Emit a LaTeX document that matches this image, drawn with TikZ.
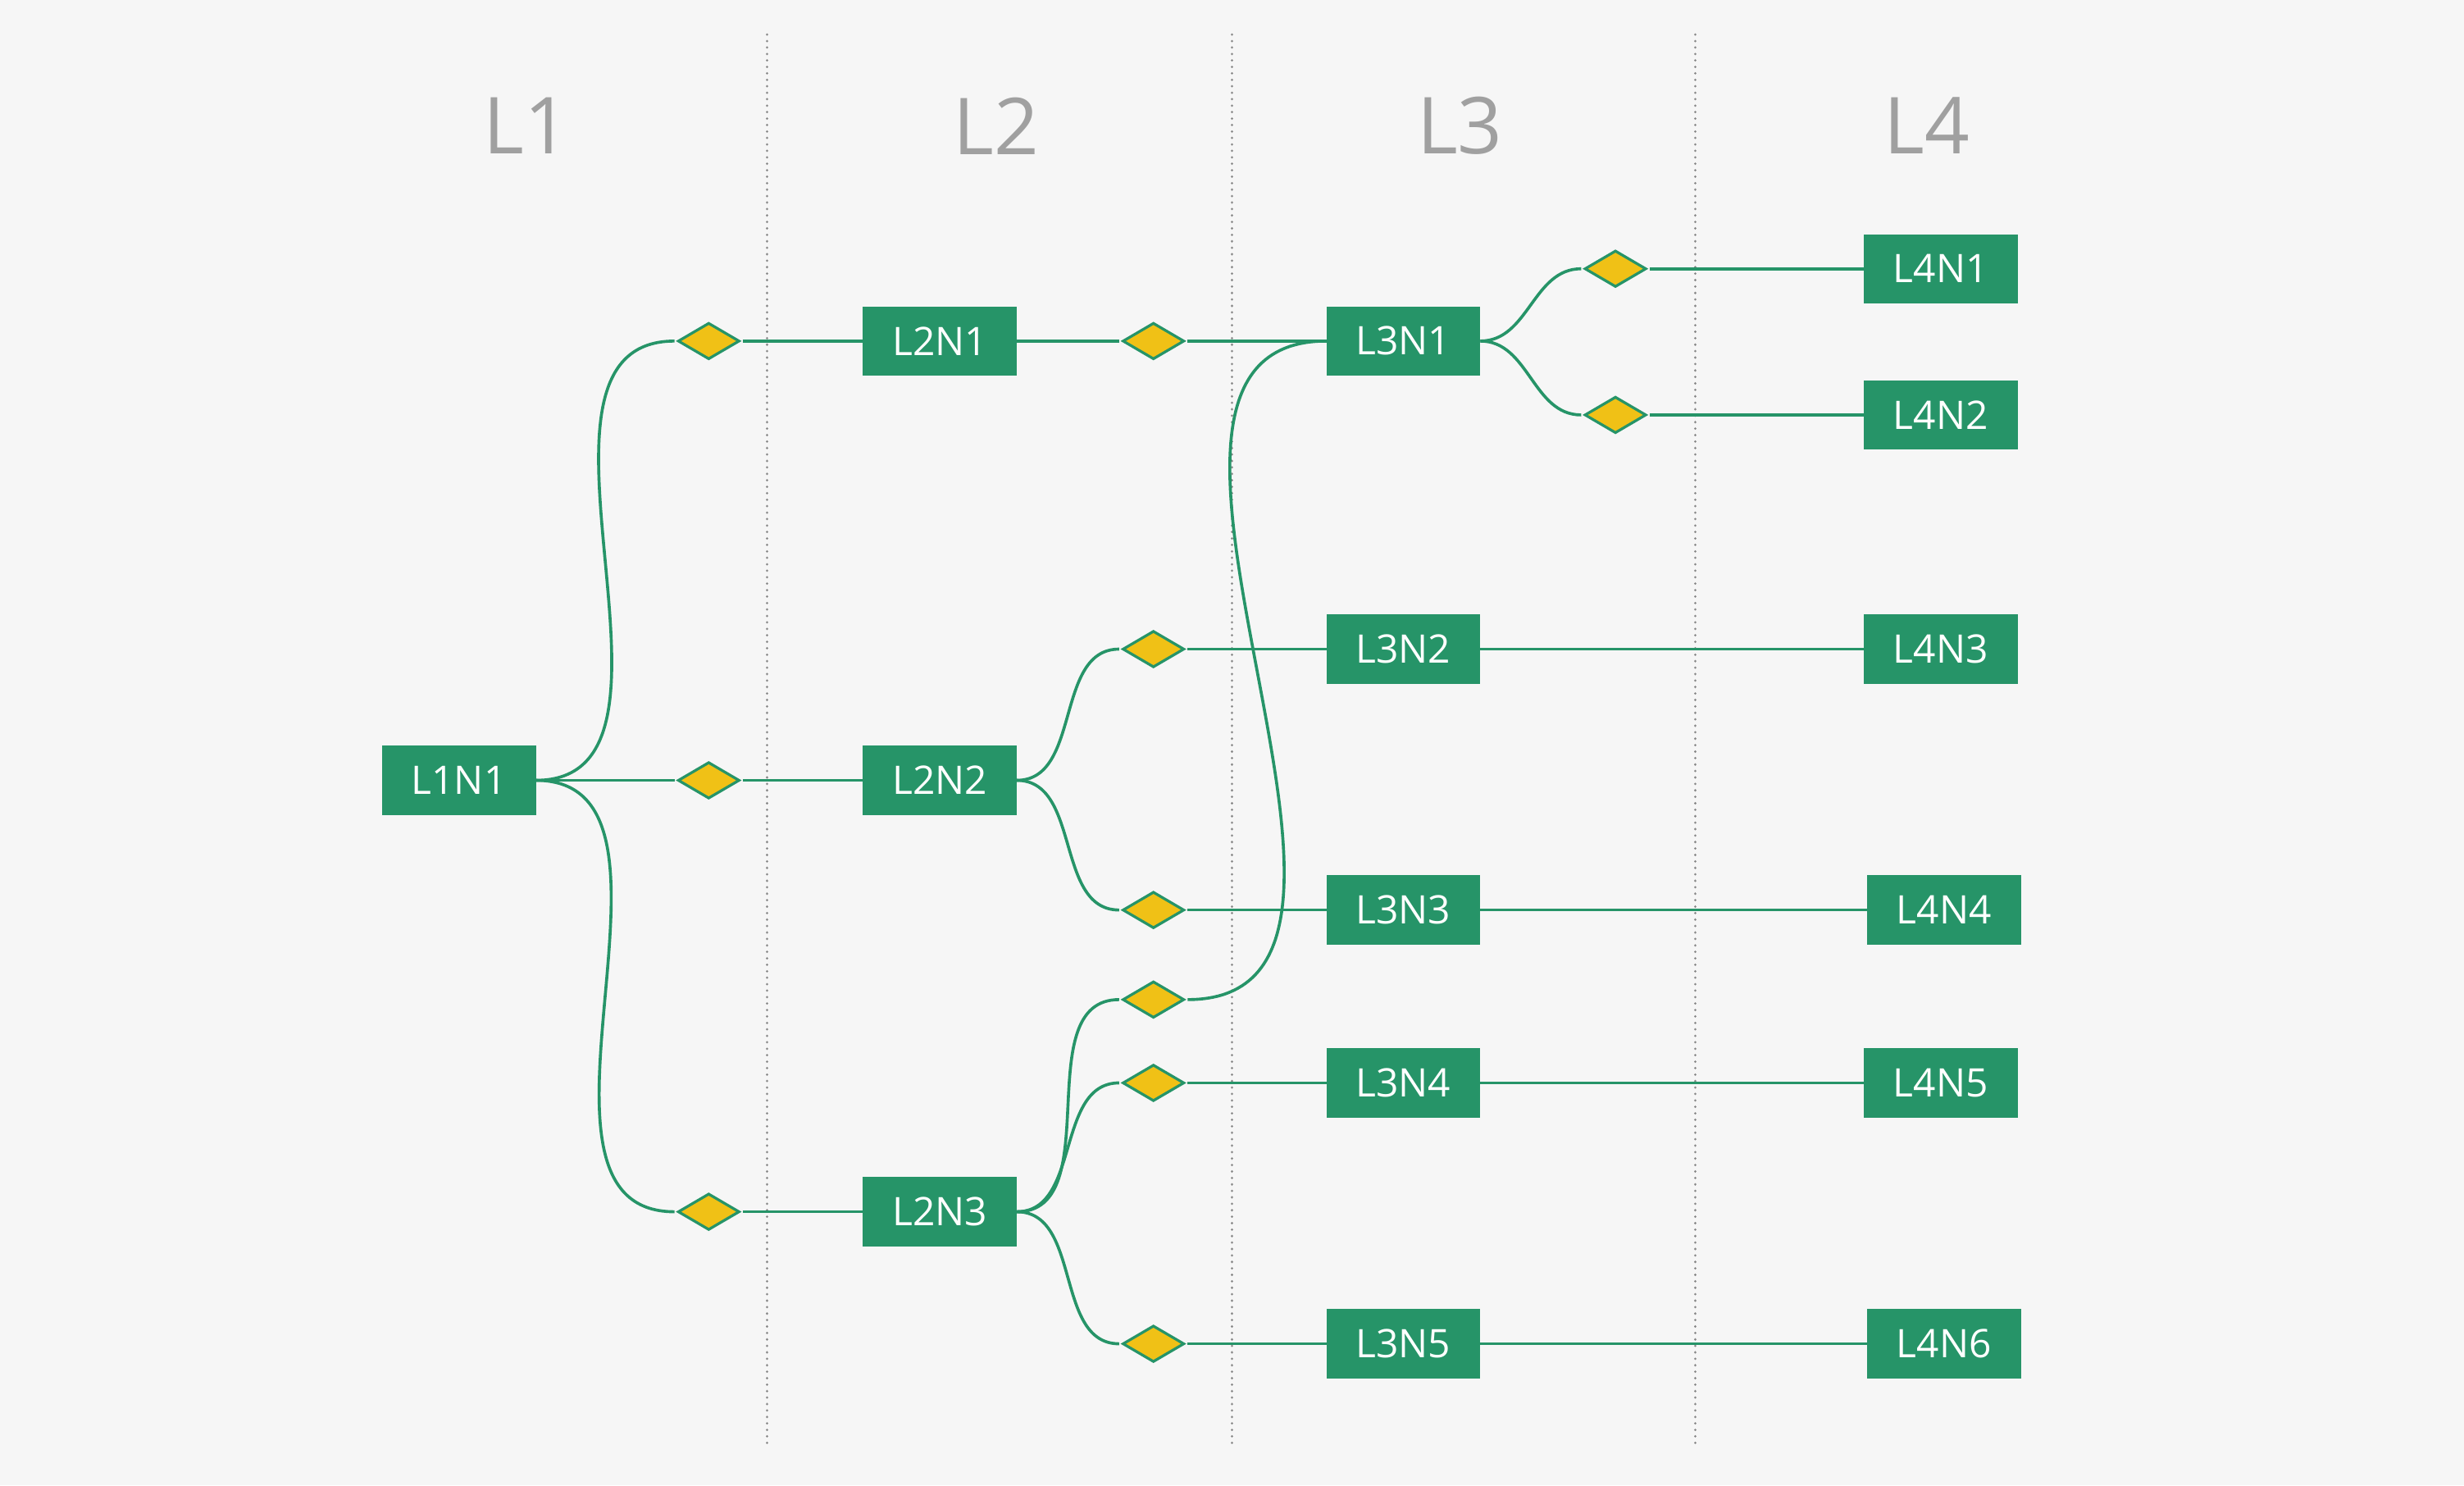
\documentclass[tikz,border=0pt]{standalone}
\usepackage{fontspec}
\setmainfont{Open Sans}
\usetikzlibrary{shapes.geometric}
\definecolor{bg}{RGB}{246,246,246}
\definecolor{leaf}{RGB}{38,148,104}
\definecolor{gold}{RGB}{240,193,22}
\definecolor{rule}{RGB}{135,135,135}
\definecolor{head}{RGB}{160,160,160}
\begin{document}
\begin{tikzpicture}[x=1pt,y=-1pt,
  box/.style={fill=leaf, text=white, minimum width=98pt, minimum height=44pt,
    inner sep=0pt, outer sep=0pt, font=\fontsize{25}{30}\selectfont},
  gate/.style={diamond, fill=gold, draw=leaf, line width=1.7pt,
    minimum width=40pt, minimum height=24pt, inner sep=0pt, outer sep=1.8pt},
  link/.style={draw=leaf, line width=1.9pt},
  divider/.style={draw=rule, line width=1.6pt, line cap=round, dash pattern=on 0.01pt off 4.1pt},
  level/.style={text=head, inner sep=0pt, font=\fontsize{50}{60}\selectfont}]

% canvas
\fill[bg] (0,0) rectangle (1568,945);
\useasboundingbox (0,0) rectangle (1568,945);

% column dividers
\coordinate (s1t) at (488,22);  \coordinate (s1b) at (488,922);
\coordinate (s2t) at (784,22);  \coordinate (s2b) at (784,922);
\coordinate (s3t) at (1079,22); \coordinate (s3b) at (1079,922);
\draw[divider] (s1t) -- (s1b);
\draw[divider] (s2t) -- (s2b);
\draw[divider] (s3t) -- (s3b);

% column headings
\node[level] (h1) at (335,80) {L1};
\node[level] (h2) at (634,80) {L2};
\node[level] (h3) at (929,80) {L3};
\node[level] (h4) at (1226,80) {L4};

% level 1
\node[box] (l1n1) at (292,496.5) {L1N1};
\node[gate] (d1a) at (451,217) {};
\node[gate] (d1b) at (451,496.5) {};
\node[gate] (d1c) at (451,771) {};

% level 2
\node[box] (l2n1) at (598,217) {L2N1};
\node[box] (l2n2) at (598,496.5) {L2N2};
\node[box] (l2n3) at (598,771) {L2N3};
\node[gate] (d2a) at (734,217) {};
\node[gate] (d2b) at (734,413) {};
\node[gate] (d2c) at (734,579) {};
\node[gate] (d2d) at (734,636) {};
\node[gate] (d2e) at (734,689) {};
\node[gate] (d2f) at (734,855) {};

% level 3
\node[box] (l3n1) at (893,217) {L3N1};
\node[box] (l3n2) at (893,413) {L3N2};
\node[box] (l3n3) at (893,579) {L3N3};
\node[box] (l3n4) at (893,689) {L3N4};
\node[box] (l3n5) at (893,855) {L3N5};
\node[gate] (d3a) at (1028,171) {};
\node[gate] (d3b) at (1028,264) {};

% level 4
\node[box] (l4n1) at (1235,171) {L4N1};
\node[box] (l4n2) at (1235,264) {L4N2};
\node[box] (l4n3) at (1235,413) {L4N3};
\node[box] (l4n4) at (1237,579) {L4N4};
\node[box] (l4n5) at (1235,689) {L4N5};
\node[box] (l4n6) at (1237,855) {L4N6};

% branches out of L1N1
\draw[link] (l1n1.east) to[out=0,in=180] (d1a.west);
\draw[link] (l1n1.east) -- (d1b.west);
\draw[link] (l1n1.east) to[out=0,in=180] (d1c.west);
\draw[link] (d1a.east) -- (l2n1.west);
\draw[link] (d1b.east) -- (l2n2.west);
\draw[link] (d1c.east) -- (l2n3.west);

% branches out of level 2
\draw[link] (l2n1.east) -- (d2a.west);
\draw[link] (l2n2.east) to[out=0,in=180] (d2b.west);
\draw[link] (l2n2.east) to[out=0,in=180] (d2c.west);
\draw[link] (l2n3.east) to[out=0,in=180] (d2d.west);
\draw[link] (l2n3.east) to[out=0,in=180] (d2e.west);
\draw[link] (l2n3.east) to[out=0,in=180] (d2f.west);
\draw[link] (d2a.east) -- (l3n1.west);
\draw[link] (d2b.east) -- (l3n2.west);
\draw[link] (d2c.east) -- (l3n3.west);
\draw[link] (d2d.east) to[out=0,in=180] (l3n1.west);
\draw[link] (d2e.east) -- (l3n4.west);
\draw[link] (d2f.east) -- (l3n5.west);

% branches out of level 3
\draw[link] (l3n1.east) to[out=0,in=180] (d3a.west);
\draw[link] (l3n1.east) to[out=0,in=180] (d3b.west);
\draw[link] (d3a.east) -- (l4n1.west);
\draw[link] (d3b.east) -- (l4n2.west);
\draw[link] (l3n2.east) -- (l4n3.west);
\draw[link] (l3n3.east) -- (l4n4.west);
\draw[link] (l3n4.east) -- (l4n5.west);
\draw[link] (l3n5.east) -- (l4n6.west);
\end{tikzpicture}
\end{document}
